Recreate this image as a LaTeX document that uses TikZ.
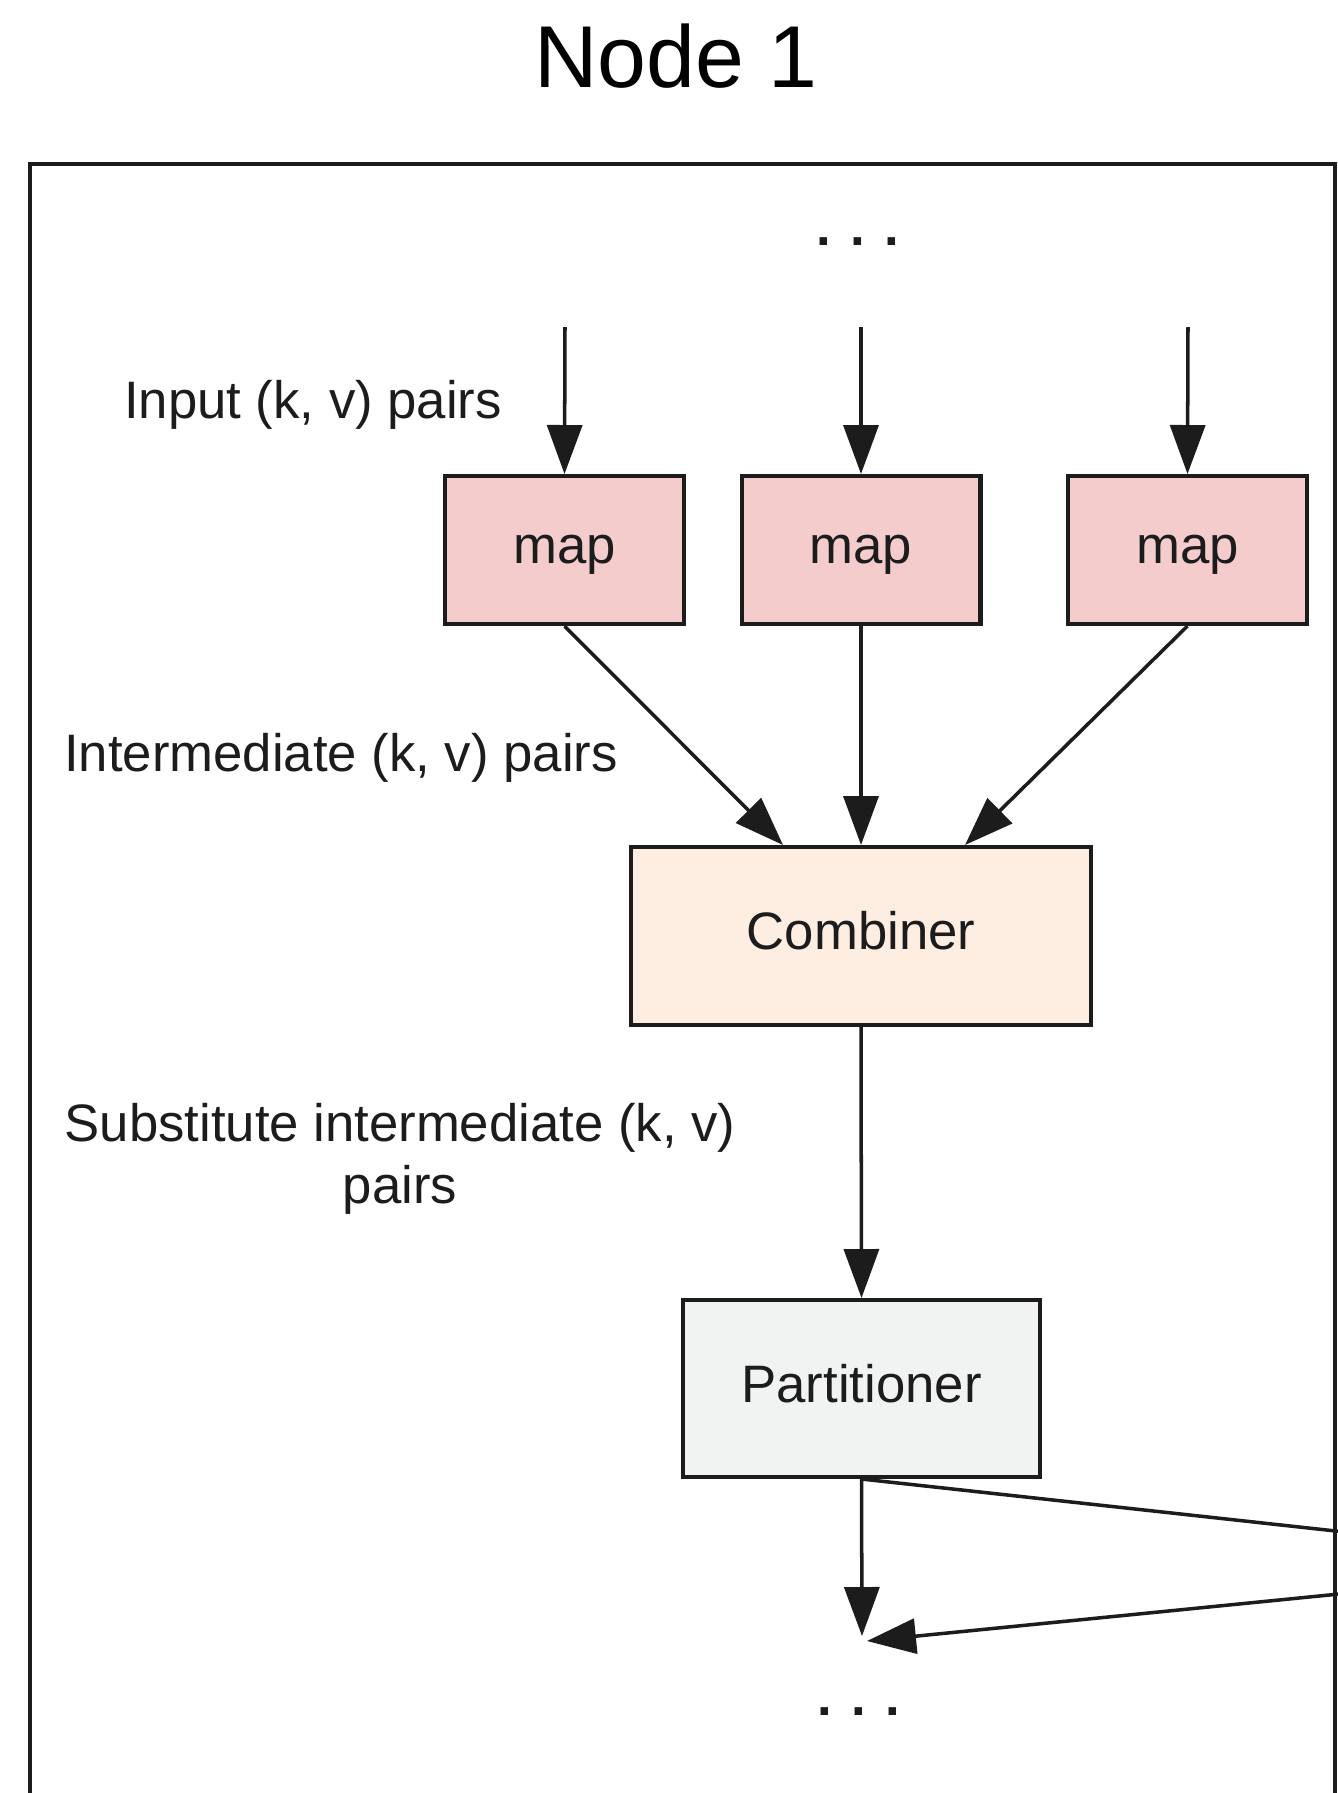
\documentclass[tikz,border=0pt]{standalone}
\usepackage{fontspec}
\setmainfont{Liberation Sans}
\usetikzlibrary{arrows.meta,calc}

\definecolor{mapfill}{HTML}{F3CCCB}
\definecolor{combfill}{HTML}{FDEEE1}
\definecolor{partfill}{HTML}{F1F3F2}
\definecolor{ink}{HTML}{1C1C1C}

\begin{document}
\begin{tikzpicture}[x=0.02cm,y=-0.02cm,
  lbl/.style={font=\fontsize{30}{35}\selectfont, text=ink, inner sep=0pt},
  box/.style={draw=ink, line width=2.3pt, inner sep=0pt,
    font=\fontsize{30}{35}\selectfont, text=ink,
    text height=22.5pt, text depth=6.6pt},
  mapbox/.style={box, fill=mapfill, minimum width=4.78cm, minimum height=2.96cm},
  flow/.style={draw=ink, line width=2pt, -{Triangle[width=0.7cm,length=0.98cm]}},
  wire/.style={draw=ink, line width=2pt}]

% canvas
\useasboundingbox (0,0) rectangle (1338,1793);
\fill[white] (0,0) rectangle (1338,1793);
\clip (0,0) rectangle (1338,1793);

% title and machine frame (open at the bottom)
\node[font=\fontsize{50}{60}\selectfont, inner sep=0pt, anchor=base] (title) at (676,87) {Node 1};
\draw[draw=ink, line width=2.3pt] (30,1900) -- (30,164) -- (1335,164) -- (1335,1900);

% continuation marks
\node[lbl, font=\fontsize{30}{35}\selectfont\bfseries, anchor=base] (dotsTop) at (858,245) {. . .};
\node[lbl, font=\fontsize{30}{35}\selectfont\bfseries, anchor=base] (dotsBot) at (859,1715) {. . .};

% map tasks
\node[mapbox] (mapA) at (564.5,550) {map};
\node[mapbox] (mapB) at (861,550) {map};
\node[mapbox] (mapC) at (1187.5,550) {map};

% combiner and partitioner
\node[box, fill=combfill, minimum width=9.2cm, minimum height=3.56cm] (comb) at (861,936) {Combiner};
\node[box, fill=partfill, minimum width=7.14cm, minimum height=3.54cm] (part) at (861.5,1388.5) {Partitioner};

% input sources
\coordinate (srcA) at (565,327);
\coordinate (srcB) at (861,327);
\coordinate (srcC) at (1188,327);
\draw[flow] (srcA) -- (mapA.north);
\draw[flow] (srcB) -- (mapB.north);
\draw[flow] (srcC) -- (mapC.north);

% map outputs into the combiner
\draw[flow] (mapA.south) -- ($(comb.north west)+(154,0)$);
\draw[flow] (mapB.south) -- (comb.north);
\draw[flow] (mapC.south) -- ($(comb.north west)+(336,0)$);

% combiner into partitioner
\draw[flow] (comb.south) -- (part.north);

% partitioner outputs: local sink and exchange with the next machine
\coordinate (sinkA) at (862,1636);
\coordinate (sinkB) at (867,1641);
\coordinate (toNext) at (1500,1549);
\coordinate (fromNext) at (1500,1578);
\draw[flow] (part.south) -- (sinkA);
\draw[wire] (part.south) -- (toNext);
\draw[flow] (fromNext) -- (sinkB);

% stage labels
\node[lbl, anchor=base] (lblInput) at (313,418) {Input (k, v) pairs};
\node[lbl, anchor=base] (lblInter) at (341,771) {Intermediate (k, v) pairs};
\node[lbl, align=center] (lblSubst) at (400,1159) {Substitute intermediate (k, v)\\pairs};

\end{tikzpicture}
\end{document}
